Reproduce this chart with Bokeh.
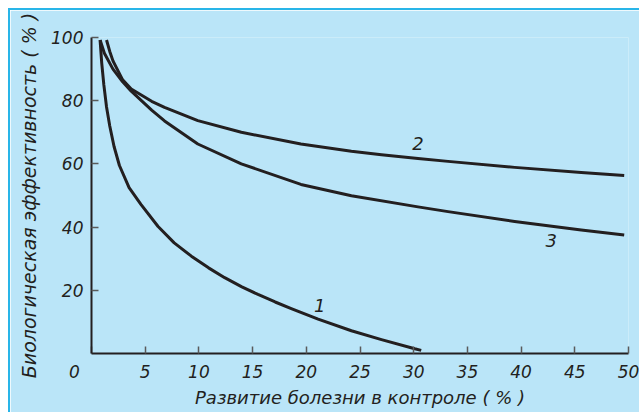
from bokeh.plotting import figure
from bokeh.models import Range1d, FixedTicker
from bokeh.core.properties import value
from bokeh.embed import file_html
from bokeh.resources import INLINE

# Curve 1
x1 = [0.8, 0.95, 1.15, 1.4, 1.7, 2.1, 2.6, 3.5, 4.6, 6.2, 7.7, 9.3, 10.9, 12.4, 14.0, 15.5, 17.1, 18.6, 21.1, 24.2, 27.0, 30.1, 30.7]
y1 = [99.2, 92.0, 85.0, 78.0, 72.0, 65.5, 59.5, 52.5, 47.2, 40.2, 35.0, 30.8, 27.1, 24.0, 21.1, 18.7, 16.3, 14.2, 10.9, 7.2, 4.4, 1.5, 1.0]
# Curve 2
x2 = [1.4, 1.7, 2.0, 2.9, 3.7, 5.6, 6.8, 9.9, 13.95, 19.5, 24.2, 27.0, 30.4, 33.2, 39.4, 45.6, 49.6]
y2 = [99.2, 95.6, 92.6, 86.6, 83.7, 79.8, 77.9, 73.7, 70.0, 66.3, 64.0, 62.9, 61.7, 60.8, 58.9, 57.3, 56.3]
# Curve 3
x3 = [0.8, 1.2, 2.0, 2.9, 3.7, 5.6, 6.8, 9.9, 13.95, 19.5, 24.2, 30.4, 33.2, 39.4, 45.6, 49.6]
y3 = [99.2, 95.0, 90.0, 86.0, 83.0, 77.0, 73.6, 66.3, 60.0, 53.5, 49.9, 46.4, 44.9, 41.8, 39.1, 37.5]

curve_labels = ["1", "2", "3"]
label_x = [21.25, 30.4, 42.8]
label_y = [15.2, 66.5, 35.8]

x_ticks = [0, 5, 10, 15, 20, 25, 30, 35, 40, 45, 50]
y_ticks = [20, 40, 60, 80, 100]

x_title = "Развитие болезни в контроле ( % )"
y_title = "Биологическая эффективность ( % )"

BG = "#bae5f8"
INK = "#231f20"
FONT = "DejaVu Sans"

p = figure(width=631, height=404, output_backend="svg", toolbar_location=None,
           x_range=Range1d(0, 50), y_range=Range1d(0, 100),
           min_border_left=81, min_border_right=13, min_border_top=27, min_border_bottom=61)
p.margin = (8, 0, 0, 8)
p.styles = {"border-top": "2px solid #29b5e8", "border-left": "2px solid #29b5e8"}
p.background_fill_color = BG
p.border_fill_color = BG
p.outline_line_color = None
p.grid.visible = False

for ax in (p.xaxis[0], p.yaxis[0]):
    ax.axis_line_color = INK
    ax.axis_line_width = 2
    ax.major_tick_line_color = "#5a5a5a"
    ax.major_tick_line_width = 1.5
    ax.major_tick_in = 7
    ax.major_tick_out = 0
    ax.minor_tick_line_color = None
    ax.major_label_text_font = FONT
    ax.major_label_text_font_style = "italic"
    ax.major_label_text_font_size = "17px"
    ax.major_label_text_color = INK
    ax.axis_label_text_font = FONT
    ax.axis_label_text_font_style = "italic"
    ax.axis_label_text_color = INK

p.xaxis.ticker = FixedTicker(ticks=x_ticks)
p.yaxis.ticker = FixedTicker(ticks=y_ticks)
# origin label sits left of the corner
p.xaxis.major_label_overrides = {0: "0\u2003\u2003"}
p.xaxis.major_label_standoff = 8
p.yaxis.major_label_standoff = 8
p.xaxis.axis_label = x_title
p.yaxis.axis_label = y_title
p.xaxis.axis_label_text_font_size = "18px"
p.yaxis.axis_label_text_font_size = "19px"
p.xaxis.axis_label_standoff = 2
p.yaxis.axis_label_standoff = 8

for xs, ys in ((x1, y1), (x2, y2), (x3, y3)):
    p.line(xs, ys, line_color=INK, line_width=3, line_join="round")

p.text(x=label_x, y=label_y, text=curve_labels, text_font=value(FONT),
       text_font_style="italic", text_font_size="18px", text_color=INK,
       text_align="center", text_baseline="middle")

open("out.html", "w").write(file_html(p, INLINE))
